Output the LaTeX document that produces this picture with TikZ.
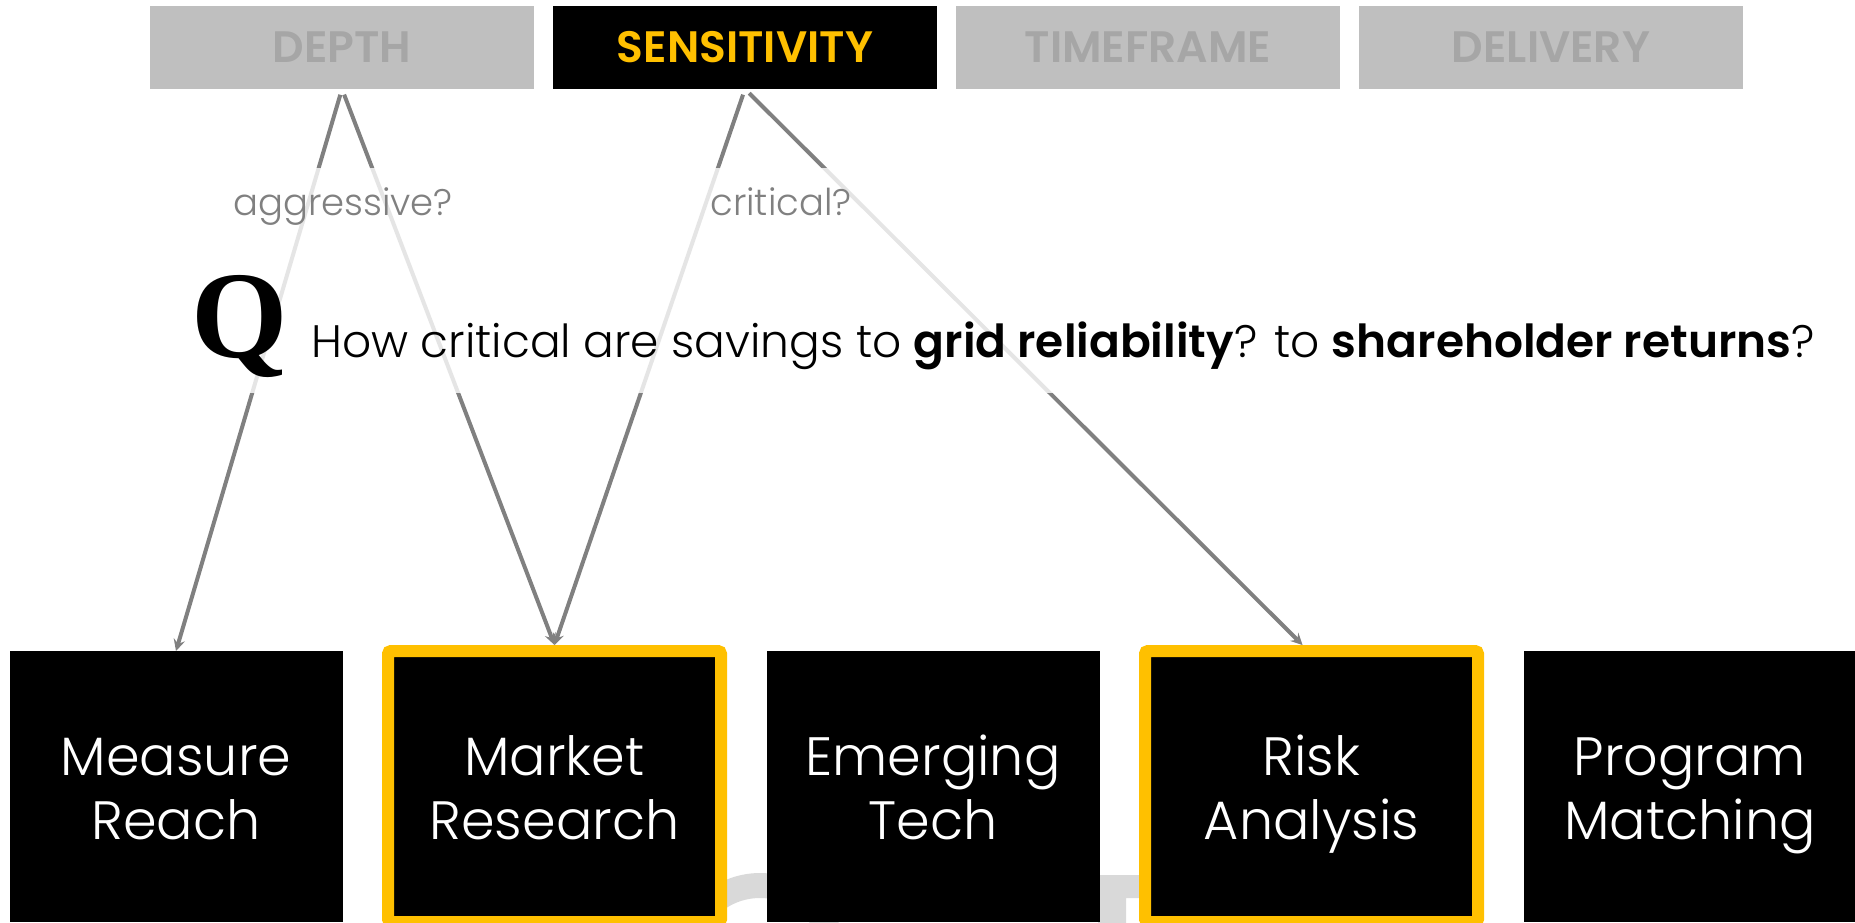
\documentclass[tikz,border=0pt]{standalone}
\usepackage{fontspec}
\setmainfont{Poppins}[UprightFont=* Light, BoldFont=* SemiBold]
\newfontfamily\qfont{Liberation Serif}
\usetikzlibrary{arrows}
\definecolor{gold}{HTML}{FFC000}
\definecolor{tabgray}{HTML}{BFBFBF}
\definecolor{txtgray}{HTML}{A6A6A6}
\definecolor{linegray}{HTML}{808080}
\definecolor{fraggray}{HTML}{D9D9D9}

\begin{document}
\begin{tikzpicture}[->,>=stealth,x=1pt,y=-1pt,node distance=403pt,
  tab/.style={fill=tabgray,text=txtgray,minimum width=384pt,minimum height=83pt,inner sep=0pt,outer sep=0pt,font=\fontsize{44}{44}\selectfont\bfseries},
  box/.style={fill=black,text=white,minimum width=333pt,minimum height=271pt,inner sep=0pt,outer sep=0pt,align=center,font=\fontsize{54}{64}\selectfont,
    text height=125pt,text depth=20pt},
  pick/.style={draw=gold,line width=12pt,rounded corners=3pt,outer sep=6pt},
  ask/.style={text=linegray,anchor=base,font=\fontsize{37}{37}\selectfont}]
  \useasboundingbox (0,0) rectangle (1855,923);

  % letters behind the boxes
  \draw[fraggray,line width=25pt] (760,960) circle (74.5pt);
  \fill[fraggray] (1098,875) -- (1140,875) -- (1140,898) -- (1126,898) -- (1126,930) -- (1098,930) -- cycle;

  \node [tab] (depth) at (342,47.5) {DEPTH};
  \node [tab,fill=black,text=gold,right of=depth] (sens) {SENSITIVITY};
  \node [tab,right of=sens] (time) {TIMEFRAME};
  \node [tab,right of=time] (deliv) {DELIVERY};

  \node [box] (measure) at (176,786.5) {Measure\\Reach};
  \node [box,pick,right of=measure,node distance=378.5pt] (market) {Market\\Research};
  \node [box,right of=market,node distance=378.5pt] (emerg) {Emerging\\Tech};
  \node [box,pick,right of=emerg,node distance=378.5pt] (risk) {Risk\\Analysis};
  \node [box,right of=risk,node distance=378.5pt] (prog) {Program\\Matching};

  \path[linegray,line width=4pt,shorten <=6pt] (depth.south) edge (measure.north)
    (depth.south) edge (market.north);
  \path[linegray,line width=4pt,shorten <=6pt] (sens.south) edge (market.north)
    (sens.south) edge ([xshift=-9pt]risk.north);

  \fill[white,opacity=0.8] (0,168) rectangle (1855,393);

  \node [ask] (agg) at (343,215) {aggressive?};
  \node [ask] (crit) at (781,215) {critical?};

  \node [anchor=base west,inner sep=0pt,font=\fontsize{124}{124}\qfont\bfseries] (q) at (191,357) {Q};
  \node [anchor=base west,inner sep=0pt,font=\fontsize{45.5}{45.5}\selectfont] (quest) at (311,357)
    {How critical are savings to \textbf{grid reliability}? to \textbf{shareholder returns}?};
\end{tikzpicture}
\end{document}
